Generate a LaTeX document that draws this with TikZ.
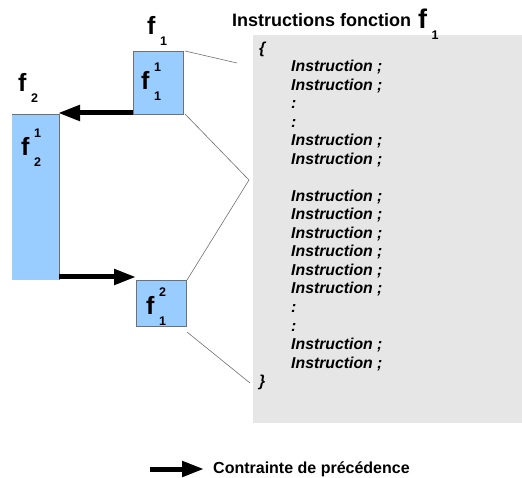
\documentclass[tikz,border=0pt]{standalone}
\usepackage{fontspec}
\setmainfont{Liberation Sans}
\usetikzlibrary{arrows.meta}
\definecolor{boxblue}{HTML}{99CCFF}
\definecolor{panelgray}{HTML}{E6E6E6}
\definecolor{edgegray}{HTML}{707070}
\newcommand{\scr}{\fontsize{12.5}{12.5}\selectfont}
\newcommand{\flab}[2]{f\kern4.5pt\rlap{\raisebox{18.5pt}{\scr #1}}\raisebox{-10.5pt}{\scr #2}}
\tikzset{
  bx/.style={draw=edgegray, line width=0.6pt, fill=boxblue, inner sep=0pt, outer sep=0pt, anchor=north west},
  flabel/.style={inner sep=0pt, anchor=base west, font=\fontsize{25}{25}\selectfont\bfseries},
  instr/.style={inner sep=0pt, anchor=base west, font=\fontsize{15.8}{15.8}\selectfont\bfseries\itshape},
  zoomline/.style={draw=edgegray, line width=0.6pt},
  prec/.style={line width=5pt, -{Triangle[length=22pt,width=15pt]}}
}
\begin{document}
\begin{tikzpicture}[x=1pt,y=-1pt]
\useasboundingbox (0,0) rectangle (522,478);
% panel
\node[fill=panelgray, inner sep=0pt, outer sep=0pt, anchor=north west, minimum width=269pt, minimum height=388pt] (panel) at (253,35) {};
% title
\node[inner sep=0pt, anchor=base west, font=\fontsize{18}{18}\selectfont\bfseries] (title) at (232,27) {Instructions fonction};
\node[inner sep=0pt, anchor=base west, font=\fontsize{27}{27}\selectfont\bfseries] (titlef) at (418,29) {\flab{}{1}};
% boxes
\node[bx, minimum width=50pt, minimum height=63pt] (b11) at (133,51) {};
\node[bx, draw=none, minimum width=47pt, minimum height=166pt] (b21) at (12,114) {};
\draw[draw=edgegray, line width=0.6pt] (b21.north west) -- (b21.north east) -- (b21.south east);
\node[bx, minimum width=50pt, minimum height=46pt] (b12) at (136,280) {};
% labels
\node[flabel] (l1) at (147,35) {\flab{}{1}};
\node[flabel] (l2) at (18,92) {\flab{}{2}};
\node[flabel] (l11) at (141,90) {\flab{1}{1}};
\node[flabel] (l21) at (21,156) {\flab{1}{2}};
\node[flabel] (l12) at (146,315) {\flab{2}{1}};
% zoom lines
\coordinate (c1) at (237,63);
\coordinate (c2) at (249,180);
\coordinate (c3) at (250,383);
\coordinate (s3) at (187,332);
\draw[zoomline] ([xshift=2pt]b11.north east) -- (c1);
\draw[zoomline] ([xshift=2pt]b11.south east) -- (c2) -- ([xshift=1pt]b12.north east);
\draw[zoomline] (s3) -- (c3);
% precedence arrows
\draw[prec] ([yshift=1pt]b11.south west) -- ([xshift=-1pt,yshift=1pt]b21.north east);
\draw[prec] ([yshift=3pt]b21.south east) -- ([yshift=3pt]b12.north west);
% instructions
\node[instr] (ob) at (259,53.5) {\{};
\node[instr] (cb) at (259,386.5) {\}};
\foreach \i in {2,3,6,7,9,10,11,12,13,14,17,18}
  \node[instr] (i\i) at (291,35+18.5*\i) {Instruction ;};
\foreach \i in {4,5,15,16}
  \node[instr] (d\i) at (291,35+18.5*\i) {:};
% legend
\coordinate (la) at (150,469);
\coordinate (lb) at (204,469);
\draw[prec] (la) -- (lb);
\node[inner sep=0pt, anchor=base west, font=\fontsize{16}{16}\selectfont\bfseries] (legend) at (213,473) {Contrainte de précédence};
\end{tikzpicture}
\end{document}
